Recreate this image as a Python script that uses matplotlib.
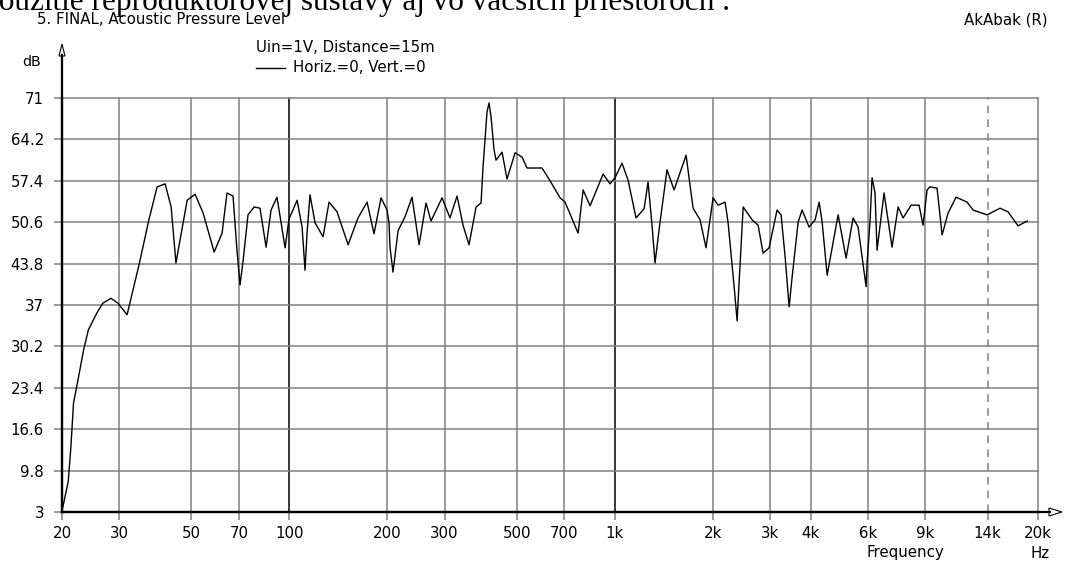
import numpy as np
import matplotlib
matplotlib.use("Agg")
import matplotlib.pyplot as plt
from matplotlib.patches import Polygon
from matplotlib.lines import Line2D

W, H = 1066, 569

# on-axis acoustic pressure level, Uin=1V at 15 m
freq_hz = [20.1, 20.9, 21.3, 21.7, 22.4, 23.3, 24.1, 25.6, 26.7, 28.3,
           29.7, 31.7, 34.5, 37.0, 39.2, 41.5, 43.3, 44.8, 48.5, 51.3,
           54.3, 58.7, 62.1, 64.3, 67.1, 69.0, 70.5, 72.0, 74.6, 77.9,
           81.2, 84.8, 87.8, 91.6, 97.0, 99.7, 105.6, 109.4, 111.7, 113.3,
           115.7, 119.9, 126.9, 132.4, 140.1, 151.5, 162.5, 173.3, 182.0, 191.3,
           199.6, 202.4, 203.8, 208.2, 215.8, 226.7, 238.2, 250.4, 263.0, 272.5,
           294.6, 311.6, 327.6, 341.8, 356.6, 374.8, 388.2, 393.8, 405.0, 410.8,
           416.7, 425.6, 431.7, 450.5, 466.6, 494.0, 519.0, 537.6, 597.8, 632.7,
           679.2, 703.6, 771.6, 799.5, 840.0, 920.8, 967.4, 1002, 1053, 1099,
           1163, 1231, 1266, 1302, 1330, 1378, 1448, 1522, 1657, 1741,
           1829, 1908, 2006, 2078, 2184, 2230, 2328, 2378, 2412, 2482,
           2644, 2759, 2858, 2982, 3155, 3246, 3340, 3436, 3510, 3662,
           3766, 3958, 4130, 4249, 4341, 4497, 4860, 5142, 5404, 5598,
           5924, 5966, 6094, 6180, 6311, 6402, 6727, 7119, 7430, 7697,
           8146, 8617, 8867, 9122, 9318, 9790, 10144, 10584, 11202, 12106,
           12632, 13950, 15292, 16182, 17372, 18520]
level_db = [3.7, 8.0, 13.7, 20.9, 24.7, 29.6, 32.9, 35.7, 37.3, 38.1,
            37.3, 35.4, 43.6, 51.0, 56.4, 56.9, 53.1, 43.9, 54.2, 55.2,
            52.1, 45.7, 48.8, 55.4, 54.9, 46.0, 40.3, 44.1, 51.8, 53.1,
            52.9, 46.5, 52.6, 54.7, 46.4, 51.1, 54.2, 49.8, 42.7, 48.8,
            55.1, 50.5, 48.2, 53.9, 52.3, 46.9, 51.3, 53.9, 48.7, 54.6,
            52.6, 50.5, 46.5, 42.4, 49.2, 51.5, 54.7, 46.9, 53.75, 50.8,
            54.6, 51.3, 54.9, 50.1, 46.9, 53.1, 53.75, 59.7, 68.7, 70.2,
            67.9, 62.5, 60.8, 62.1, 57.7, 62.0, 61.3, 59.5, 59.5, 57.4,
            54.6, 53.9, 48.8, 55.9, 53.3, 58.5, 56.9, 57.9, 60.3, 57.5,
            51.3, 52.8, 57.2, 50.1, 43.9, 50.6, 59.2, 55.9, 61.6, 52.9,
            51.0, 46.4, 54.6, 53.4, 53.9, 50.6, 40.0, 34.4, 40.8, 53.1,
            51.0, 50.1, 45.5, 46.4, 52.6, 51.8, 44.9, 36.7, 41.6, 50.6,
            52.6, 49.8, 51.0, 53.9, 50.6, 41.9, 51.8, 44.7, 51.3, 49.8,
            40.0, 43.9, 51.0, 57.9, 55.4, 46.0, 55.4, 46.5, 53.1, 51.3,
            53.4, 53.4, 50.1, 55.9, 56.4, 56.2, 48.5, 52.1, 54.7, 53.9,
            52.6, 51.8, 52.9, 52.3, 50.0, 50.8]

y_ticks = [3, 9.8, 16.6, 23.4, 30.2, 37, 43.8, 50.6, 57.4, 64.2, 71]
y_labels = ["3", "9.8", "16.6", "23.4", "30.2", "37", "43.8", "50.6", "57.4", "64.2", "71"]
x_ticks = [20, 30, 50, 70, 100, 200, 300, 500, 700, 1000, 2000, 3000, 4000,
           6000, 9000, 14000, 20000]
x_labels = ["20", "30", "50", "70", "100", "200", "300", "500", "700", "1k",
            "2k", "3k", "4k", "6k", "9k", "14k", "20k"]
x_major = [100, 1000]    # decade lines drawn in black
x_dashed = [14000]

GRID = "#808080"
FS = 10.8

plt.rcParams['font.family'] = ['DejaVu Sans']
plt.rcParams['font.size'] = FS


def fig_xy(x, y):
    # pixel position (origin top-left) -> figure fraction
    return x / W, 1 - y / H


fig = plt.figure(figsize=(W / 100, H / 100), dpi=100)
ax = fig.add_axes([62 / W, 1 - 512 / H, (1038 - 62) / W, (512 - 98) / H])
ax.set_xscale('log')
ax.set_xlim(20, 20000)
ax.set_ylim(3, 71)

for f in x_ticks[1:]:
    if f in x_major:
        ax.axvline(f, color='black', lw=1.1, zorder=1, clip_on=False)
    elif f in x_dashed:
        ax.axvline(f, color=GRID, lw=1.1, ls=(0, (5, 4)), zorder=1)
    else:
        ax.axvline(f, color=GRID, lw=1.1, zorder=1, clip_on=False)
for v in y_ticks[1:]:
    ax.axhline(v, color=GRID, lw=1.1, zorder=1, clip_on=False)

ax.plot(freq_hz, level_db, color='black', lw=1.0, zorder=3)

ax.set_xticks(x_ticks)
ax.set_xticklabels(x_labels)
ax.xaxis.set_minor_locator(matplotlib.ticker.NullLocator())
ax.set_yticks(y_ticks)
ax.set_yticklabels(y_labels)
ax.tick_params(axis='both', color=GRID, length=6, width=1.1, labelsize=FS)
ax.tick_params(axis='x', pad=4)
ax.tick_params(axis='y', pad=7)

for side in ('top', 'right'):
    ax.spines[side].set_visible(False)
ax.spines['left'].set_linewidth(1.6)
ax.spines['bottom'].set_linewidth(1.6)

# axis arrows
x0, y0 = fig_xy(62, 512)
x1, y1 = fig_xy(62, 55)
fig.add_artist(Line2D([x0, x1], [y0, y1], color='black', lw=1.6))
fig.add_artist(Polygon([fig_xy(62, 44), fig_xy(59, 56), fig_xy(65, 56)],
                       closed=True, fc='white', ec='black', lw=0.8))
x2, y2 = fig_xy(1050, 512)
fig.add_artist(Line2D([x0, x2], [y0, y2], color='black', lw=1.6))
fig.add_artist(Polygon([fig_xy(1062, 512), fig_xy(1049, 508), fig_xy(1049, 516)],
                       closed=True, fc='white', ec='black', lw=0.8))

# header and labels
fig.text(*fig_xy(-17, 10), "použitie reproduktorovej sústavy aj vo väčších priestoroch .",
         family=['Liberation Serif', 'DejaVu Serif'], fontsize=22.5, va='baseline', ha='left')
fig.text(*fig_xy(37, 20), "5. FINAL, Acoustic Pressure Level", va='center')
fig.text(*fig_xy(1048, 20), "AkAbak (R)", va='center', ha='right')
fig.text(*fig_xy(256, 47), "Uin=1V, Distance=15m", va='center')
lx0, ly = fig_xy(256, 68)
lx1, _ = fig_xy(285, 68)
fig.add_artist(Line2D([lx0, lx1], [ly, ly], color='black', lw=1.0))
fig.text(*fig_xy(293, 67), "Horiz.=0, Vert.=0", va='center')
fig.text(*fig_xy(41, 62), "dB", fontsize=FS - 0.5, va='center', ha='right')
fig.text(*fig_xy(905, 553), "Frequency", va='center', ha='center')
fig.text(*fig_xy(1031, 553), "Hz", va='center', ha='left')

fig.savefig("out.png", dpi=100)
